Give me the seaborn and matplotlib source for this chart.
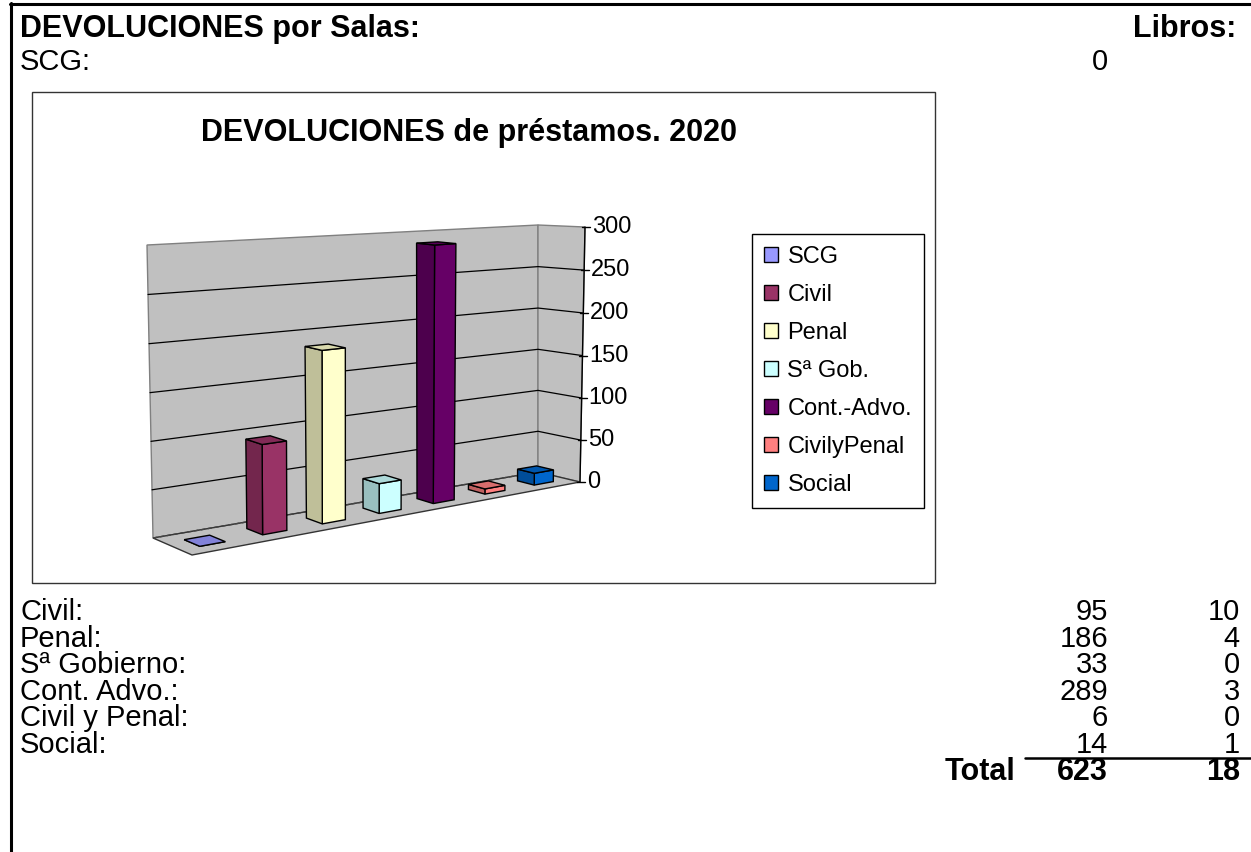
import numpy as np
import pandas as pd
import matplotlib
matplotlib.use("Agg")
import matplotlib.pyplot as plt
import matplotlib.patches as mpatches
import matplotlib.transforms as mtransforms
from matplotlib.colors import to_rgb
import seaborn as sns

# datos del grafico
salas = ["SCG", "Civil", "Penal", "Sª Gob.", "Cont.-Advo.", "CivilyPenal", "Social"]
devoluciones = [0, 95, 186, 33, 289, 6, 14]
colores = ["#9999FF", "#993366", "#FFFFCC", "#CCFFFF", "#660066", "#FF8080", "#0066CC"]
y_ticks = [0, 50, 100, 150, 200, 250, 300]

# datos de la tabla
filas = ["Civil:", "Penal:", "Sª Gobierno:", "Cont. Advo.:", "Civil y Penal:", "Social:"]
dev_filas = devoluciones[1:]
libros = [10, 4, 0, 3, 0, 1]

W, H = 1251, 852

# --- perspectiva 3D tipo Excel (esquinas de las paredes en pixeles) ---
X0, X1 = -0.5, 6.5
ZMAX = 300
FRONT = [(192, 555), (580, 482), (585, 227), (190, 254)]
BACK = [(153, 538), (538, 472), (538, 225), (147, 245)]
ESQ = [(X0, 0), (X1, 0), (X1, ZMAX), (X0, ZMAX)]


def homografia(src, dst):
    A, b = [], []
    for (x, y), (u, v) in zip(src, dst):
        A.append([x, y, 1, 0, 0, 0, -u * x, -u * y])
        b.append(u)
        A.append([0, 0, 0, x, y, 1, -v * x, -v * y])
        b.append(v)
    h = np.linalg.solve(np.array(A, float), np.array(b, float))
    return np.append(h, 1).reshape(3, 3)


H_F = homografia(ESQ, FRONT)
H_B = homografia(ESQ, BACK)


def _aplica(Hm, x, z):
    p = Hm @ np.vstack([x, z, np.ones_like(x)])
    return p[:2] / p[2]


def proyecta(x, d, z):
    x, d, z = np.broadcast_arrays(np.atleast_1d(np.asarray(x, float)),
                                  np.asarray(d, float), np.asarray(z, float))
    return ((1 - d) * _aplica(H_F, x, z) + d * _aplica(H_B, x, z)).T


class Plano(mtransforms.Transform):
    input_dims = 2
    output_dims = 2
    is_separable = False
    has_inverse = False

    def __init__(self, prof):
        super().__init__()
        self.prof = prof

    def transform_non_affine(self, values):
        v = np.asarray(values, float).reshape(-1, 2)
        return proyecta(v[:, 0], self.prof, v[:, 1])


def sombra(color, f):
    return tuple(np.array(to_rgb(color)) * f)


sns.set_style("white")
plt.rcParams["font.family"] = ["Liberation Sans", "DejaVu Sans"]
plt.rcParams["text.color"] = "black"

fig = plt.figure(figsize=(W / 100, H / 100), dpi=100)
ov = fig.add_axes([0, 0, 1, 1], zorder=1)
ov.set_xlim(0, W)
ov.set_ylim(H, 0)
ov.set_axis_off()

# marco de la hoja
ov.plot([11, 11], [3, H], color="black", lw=2.2)
ov.plot([10, W], [4, 4], color="black", lw=2.2)

FS = 21
FB = 22
ov.text(20, 29, "DEVOLUCIONES por Salas:", fontsize=FB, fontweight="bold", va="center")
ov.text(1236, 29, "Libros:", fontsize=FB, fontweight="bold", va="center", ha="right")
ov.text(20, 62, "SCG:", fontsize=FS, va="center")
ov.text(1108, 62, str(devoluciones[0]), fontsize=FS, va="center", ha="right")

# caja del grafico
ov.add_patch(mpatches.Rectangle((32, 92), 903, 491, facecolor="white",
                                edgecolor="#333333", lw=1))
ov.text(469, 133, "DEVOLUCIONES de préstamos. 2020", fontsize=FB,
        fontweight="bold", ha="center", va="center")

# paredes y suelo
gris = "#C0C0C0"
ov.add_patch(mpatches.Polygon(proyecta([X0, X1, X1, X0], 1, [0, 0, ZMAX, ZMAX]),
                              closed=True, facecolor=gris, edgecolor="#808080", lw=1))
ov.add_patch(mpatches.Polygon(proyecta(X1, [1, 0, 0, 1], [0, 0, ZMAX, ZMAX]),
                              closed=True, facecolor=gris, edgecolor="#808080", lw=1))
ov.add_patch(mpatches.Polygon(proyecta([X0, X1, X1, X0], [0, 0, 1, 1], 0),
                              closed=True, facecolor=gris, edgecolor="#333333", lw=1))
fondo = proyecta([X0, X1], 1, 0)
ov.plot(fondo[:, 0], fondo[:, 1], color="#444444", lw=1, ls=(0, (3, 2)))

for z in y_ticks[1:-1]:
    pts = np.vstack([proyecta([X0, X1], 1, z), proyecta(X1, 0, z)])
    ov.plot(pts[:, 0], pts[:, 1], color="black", lw=0.9)

# eje de valores
eje = proyecta([X1, X1], 0, [0, ZMAX])
ov.plot(eje[:, 0], eje[:, 1], color="black", lw=1)
for z in y_ticks:
    px, py = proyecta(X1, 0, z)[0]
    ov.plot([px - 3, px + 5], [py, py], color="black", lw=1)
    ov.text(px + 7, py, str(z), fontsize=17, va="center", ha="left")

# barras con seaborn, proyectadas en el plano 3D
ax = fig.add_axes([0, 0, 1, 1], zorder=2)
df = pd.DataFrame({"sala": salas, "devoluciones": devoluciones})
sns.barplot(data=df, x="sala", y="devoluciones", hue="sala", palette=colores,
            saturation=1, width=0.4, edgecolor="black", linewidth=1,
            legend=False, ax=ax)
ax.set_axis_off()
ax.patch.set_visible(False)

Y_F, Y_B = 0.3, 0.7
plano = Plano(Y_F) + ov.transData
for barra in list(ax.patches):
    color = barra.get_facecolor()[:3]
    barra.set_transform(plano)
    barra.set_clip_on(False)
    x0, w, h = barra.get_x(), barra.get_width(), barra.get_height()
    lado = proyecta(x0, [Y_F, Y_B, Y_B, Y_F], [0, 0, h, h])
    tapa = proyecta([x0, x0 + w, x0 + w, x0], [Y_F, Y_F, Y_B, Y_B], h)
    ax.add_patch(mpatches.Polygon(lado, closed=True, facecolor=sombra(color, 0.75),
                                  edgecolor="black", lw=1, transform=ov.transData,
                                  clip_on=False))
    ax.add_patch(mpatches.Polygon(tapa, closed=True, facecolor=sombra(color, 0.85),
                                  edgecolor="black", lw=1, transform=ov.transData,
                                  clip_on=False))

# leyenda
handles = [mpatches.Patch(facecolor=c, edgecolor="black", lw=1) for c in colores]
leg = ov.legend(handles, salas, loc="upper left", bbox_to_anchor=(752, 234),
                bbox_transform=ov.transData, fontsize=17, frameon=True,
                fancybox=False, edgecolor="black", framealpha=1, borderpad=0.5,
                labelspacing=0.68, handlelength=0.6, handleheight=0.6,
                handletextpad=0.4, borderaxespad=0)
leg.get_frame().set_linewidth(1)

# tabla inferior
for i, (fila, d, l) in enumerate(zip(filas, dev_filas, libros)):
    y = 612 + i * 26.6
    ov.text(20, y, fila, fontsize=FS, va="center")
    ov.text(1108, y, str(d), fontsize=FS, va="center", ha="right")
    ov.text(1240, y, str(l), fontsize=FS, va="center", ha="right")

ov.plot([1025, W], [758, 758], color="black", lw=1.8)
ov.text(1015, 772, "Total", fontsize=FB, fontweight="bold", va="center", ha="right")
ov.text(1108, 772, str(sum(devoluciones)), fontsize=FB, fontweight="bold",
        va="center", ha="right")
ov.text(1240, 772, str(sum(libros)), fontsize=FB, fontweight="bold",
        va="center", ha="right")

fig.savefig("out.png", dpi=100)
